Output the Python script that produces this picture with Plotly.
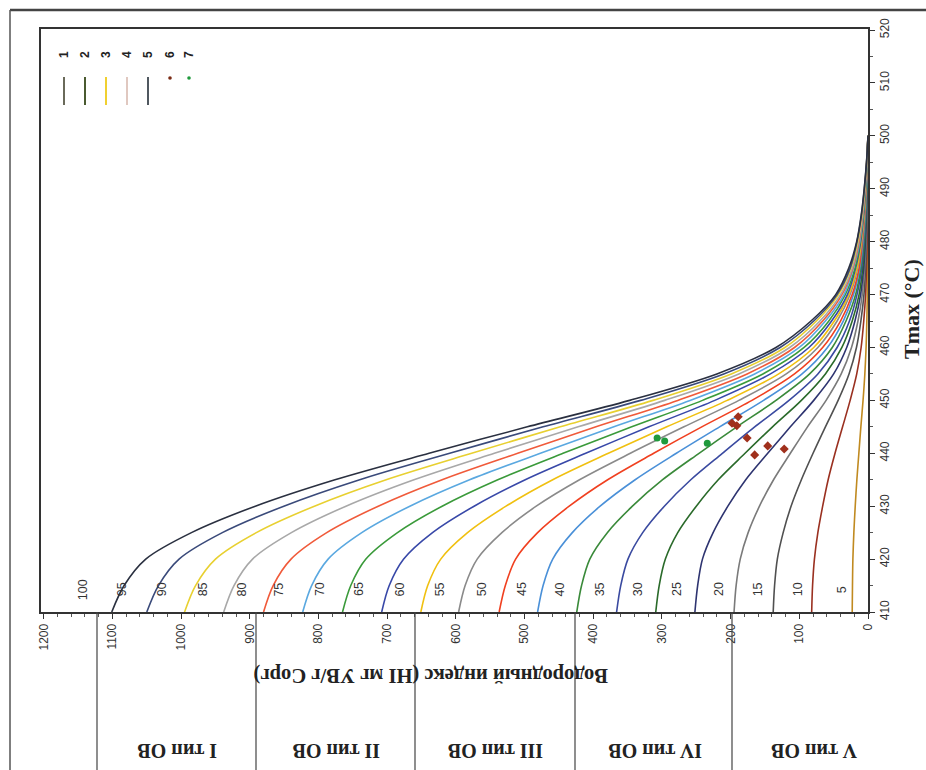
import plotly.graph_objects as go

# ---------------- data ----------------
tmax = [410, 415, 420, 425, 430, 435, 440, 445, 450, 455, 460, 465, 470, 475, 480, 485, 490, 495, 500]

hi_c00 = [23, 22.6, 22.0, 20.6, 18.6, 16.2, 13.3, 10.4, 7.2, 4.6, 2.8, 1.7, 1.0, 0.6, 0.3, 0.2, 0.1, 0, 0]
hi_c05 = [82, 80.7, 78, 73, 66, 58, 48, 37, 26, 16.4, 10, 6.2, 3.5, 2.1, 1.2, 0.7, 0.4, 0.2, 0]
hi_c10 = [138, 136, 132, 123.5, 112, 97, 80, 62, 43.5, 27.6, 16.8, 10.4, 5.9, 3.5, 2.1, 1.2, 0.7, 0.3, 0]
hi_c15 = [195, 192, 186, 174.5, 158, 137.5, 113, 88, 61, 39, 24, 14.6, 8.4, 4.9, 2.9, 1.8, 1.0, 0.4, 0]
hi_c20 = [252, 248, 241, 225.5, 204, 178, 146, 113, 79, 50, 31, 19, 10.8, 6.3, 3.8, 2.3, 1.3, 0.5, 0]
hi_c25 = [309, 304, 295, 277, 250, 218, 179, 139, 97, 62, 38, 23, 13, 7.7, 4.6, 2.8, 1.5, 0.6, 0]
hi_c30 = [366, 360, 349.5, 328, 296.5, 258, 212, 165, 115, 73, 45, 27, 16, 9.2, 5.5, 3.3, 1.8, 0.7, 0]
hi_c35 = [424, 417, 405, 379.5, 343, 299, 246, 191, 134, 85, 52, 32, 18, 10.6, 6.4, 3.8, 2.1, 0.8, 0]
hi_c40 = [481, 473, 459, 430.5, 390, 339, 279, 216, 152, 96, 59, 36, 21, 12, 7.2, 4.3, 2.4, 1.0, 0]
hi_c45 = [537, 528, 513, 481, 435, 379, 312, 242, 169, 107, 66, 40, 23, 13, 8.1, 4.8, 2.7, 1.1, 0]
hi_c50 = [596, 586.5, 569, 533, 483, 420, 346, 268, 188, 119, 73, 45, 26, 15, 8.9, 5.4, 3.0, 1.2, 0]
hi_c55 = [651, 641, 622, 583, 527, 459, 378, 293, 205, 130, 79, 49, 28, 16, 9.8, 5.9, 3.3, 1.3, 0]
hi_c60 = [708, 697, 676, 634, 573.5, 499, 411, 319, 223, 142, 86, 53, 30, 18, 10.6, 6.4, 3.5, 1.4, 0]
hi_c65 = [765, 753, 731, 685, 620, 539, 444, 344, 241, 153, 93, 57, 33, 19, 11.5, 6.9, 3.8, 1.5, 0]
hi_c70 = [823, 810, 786, 737, 667, 580, 477, 370, 259, 165, 100, 62, 35, 21, 12, 7.4, 4.1, 1.6, 0]
hi_c75 = [880, 866, 840, 788, 713, 620, 510, 396, 277, 176, 107, 66, 38, 22, 13, 7.9, 4.4, 1.8, 0]
hi_c80 = [938, 923, 896, 839.5, 760, 661, 544, 422, 296, 188, 114, 70, 40, 23, 14, 8.4, 4.7, 1.9, 0]
hi_c85 = [995, 979, 950, 890.5, 806, 701.5, 577, 448, 313, 199, 121, 75, 43, 25, 15, 9.0, 5.0, 2.0, 0]
hi_c90 = [1050, 1033, 1003, 940, 850.5, 740, 609, 473, 331, 210, 128, 79, 45, 26, 16, 9.5, 5.3, 2.1, 0]
hi_c95 = [1101, 1083, 1051.5, 985, 892, 776, 639, 496, 347, 220, 134, 83, 47, 28, 16.5, 9.9, 5.5, 2.2, 0]

curves = [hi_c00, hi_c05, hi_c10, hi_c15, hi_c20, hi_c25, hi_c30, hi_c35, hi_c40, hi_c45,
          hi_c50, hi_c55, hi_c60, hi_c65, hi_c70, hi_c75, hi_c80, hi_c85, hi_c90, hi_c95]

curve_colors = ['#c08a20', '#9a3020', '#505050', '#7a7a7a', '#2e3470', '#2a6a2a', '#3a4aa0',
                '#3a8a3a', '#4a90d8', '#f04020', '#8a8a8a', '#f0c010', '#3848a8', '#3a9a3a',
                '#5aa8e0', '#f05a3a', '#a8a8a8', '#e8d030', '#3a4a7a', '#2a3040']

label_texts = ['5', '10', '15', '20', '25', '30', '35', '40', '45', '50',
               '55', '60', '65', '70', '75', '80', '85', '90', '95', '100']
label_hi = [38, 102, 160, 216, 277, 335, 390, 448, 504, 562,
            623, 681, 740, 798, 857, 911, 968, 1028, 1086, 1143]
label_t = 414.3

green_hi = [307, 296, 234]
green_t = [442.9, 442.3, 441.9]
red_hi = [198, 189, 191, 176, 165, 146, 122]
red_t = [445.7, 446.9, 445.2, 442.9, 439.7, 441.4, 440.8]

hi_ticks = [0, 100, 200, 300, 400, 500, 600, 700, 800, 900, 1000, 1100, 1200]
t_ticks = [410, 420, 430, 440, 450, 460, 470, 480, 490, 500, 510, 520]

type_labels = ['I тип ОВ', 'II тип ОВ', 'III тип ОВ', 'IV тип ОВ', 'V тип ОВ']
legend_labels = ['1', '2', '3', '4', '5', '6', '7']
legend_colors = ['#6a6a5a', '#4a5a30', '#f0d030', '#e0c8c0', '#505860', '#7a2a14', '#1f9a3c']

hi_title = 'Водородный индекс (HI мг УВ/г Сорг)'
t_title = 'Tmax (°C)'

# ---------------- layout geometry ----------------
W, H = 926, 770
L, R, T, B = 41, 868, 29, 612


def px(x):
    return (x - L) / (R - L)


def py(y):
    return (B - y) / (B - T)


fig = go.Figure()

for hi, col in zip(curves, curve_colors):
    fig.add_trace(go.Scatter(x=hi, y=tmax, mode='lines',
                             line=dict(color=col, width=1.6, shape='spline', smoothing=0.9),
                             showlegend=False, hoverinfo='skip'))

fig.add_trace(go.Scatter(x=red_hi, y=red_t, mode='markers',
                         marker=dict(symbol='diamond', size=7, color='#a0301c'),
                         showlegend=False))
fig.add_trace(go.Scatter(x=green_hi, y=green_t, mode='markers',
                         marker=dict(symbol='circle', size=7, color='#1f9a3c'),
                         showlegend=False))

tick_font = dict(family='Liberation Sans, Arial, sans-serif', size=12, color='#333')
serif_family = 'Liberation Serif, Times New Roman, serif'

fig.update_xaxes(range=[1204, 0], tickvals=hi_ticks, ticktext=[str(v) for v in hi_ticks],
                 tickangle=-90, ticks='outside', ticklen=5, tickcolor='#333',
                 minor=dict(dtick=20, ticks='outside', ticklen=3, tickcolor='#555'),
                 showline=True, linecolor='#333', linewidth=2, mirror=True,
                 showgrid=False, zeroline=False, tickfont=tick_font)
fig.update_yaxes(range=[410, 520.2], side='right', tickvals=t_ticks,
                 ticktext=[str(v) for v in t_ticks],
                 tickangle=-90, ticks='outside', ticklen=5, tickcolor='#333',
                 minor=dict(dtick=5, ticks='outside', ticklen=3, tickcolor='#555'),
                 showline=True, linecolor='#333', linewidth=1.5, mirror=True,
                 showgrid=False, zeroline=False, tickfont=tick_font)

shapes = []
# outer page frame
shapes.append(dict(type='line', xref='paper', yref='paper', x0=px(10), x1=px(926), y0=py(10), y1=py(10),
                   line=dict(color='#444', width=2.5)))
shapes.append(dict(type='line', xref='paper', yref='paper', x0=px(10), x1=px(10), y0=py(10), y1=py(770),
                   line=dict(color='#555', width=1.5)))
# table separators
for xs in [97, 256, 415, 575, 732]:
    shapes.append(dict(type='line', xref='paper', yref='paper', x0=px(xs), x1=px(xs), y0=0, y1=py(770),
                       line=dict(color='#444', width=1.2)))

annotations = []
# curve labels
for txt, hx in zip(label_texts, label_hi):
    annotations.append(dict(x=hx, y=label_t, xref='x', yref='y', text=txt, showarrow=False,
                            xanchor='center', yanchor='middle', textangle=-90,
                            font=dict(family='Liberation Sans, Arial, sans-serif', size=12.5, color='#333')))
# type labels
for txt, xc in zip(type_labels, [177, 337, 496, 655, 814]):
    annotations.append(dict(x=px(xc), y=py(751), xref='paper', yref='paper', text='<b>' + txt + '</b>',
                            showarrow=False, textangle=180, xanchor='center', yanchor='middle',
                            font=dict(family=serif_family, size=20, color='#222')))
# axis titles
annotations.append(dict(x=px(431), y=py(676), xref='paper', yref='paper', text='<b>' + hi_title + '</b>',
                        showarrow=False, textangle=180, xanchor='center', yanchor='middle',
                        font=dict(family=serif_family, size=20.5, color='#222')))
annotations.append(dict(x=px(911), y=py(309), xref='paper', yref='paper', text='<b>' + t_title + '</b>',
                        showarrow=False, textangle=-90, xanchor='center', yanchor='middle',
                        font=dict(family=serif_family, size=22, color='#222')))

# legend
leg_x = [64, 85, 106, 127, 148, 170, 189]
for i, (txt, col, lx) in enumerate(zip(legend_labels, legend_colors, leg_x)):
    annotations.append(dict(x=px(lx), y=py(55), xref='paper', yref='paper', text='<b>' + txt + '</b>',
                            showarrow=False, textangle=-90, xanchor='center', yanchor='middle',
                            font=dict(family='Liberation Sans, Arial, sans-serif', size=12, color='#222')))
    if i < 5:
        shapes.append(dict(type='line', xref='paper', yref='paper', x0=px(lx), x1=px(lx),
                           y0=py(77), y1=py(105), line=dict(color=col, width=2)))
    else:
        shapes.append(dict(type='circle', xref='paper', yref='paper', x0=px(lx - 1.8), x1=px(lx + 1.8),
                           y0=py(79.8), y1=py(76.2), fillcolor=col, line=dict(color=col, width=0)))

fig.update_layout(width=W, height=H, margin=dict(l=L, r=W - R, t=T, b=H - B),
                  paper_bgcolor='white', plot_bgcolor='white', showlegend=False,
                  shapes=shapes, annotations=annotations)

fig.write_html('out.html')
